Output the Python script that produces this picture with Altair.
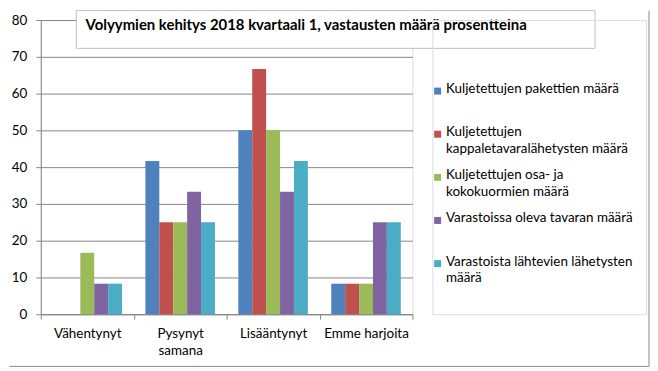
import altair as alt
import pandas as pd

title_text = "Volyymien kehitys 2018 kvartaali 1, vastausten määrä prosentteina"

categories = ["Vähentynyt", "Pysynyt samana", "Lisääntynyt", "Emme harjoita"]
series = [
    "Kuljetettujen pakettien määrä",
    "Kuljetettujen kappaletavaralähetysten määrä",
    "Kuljetettujen osa- ja kokokuormien määrä",
    "Varastoissa oleva tavaran määrä",
    "Varastoista lähtevien lähetysten määrä",
]
legend_labels = [
    "Kuljetettujen pakettien määrä",
    "Kuljetettujen\nkappaletavaralähetysten määrä",
    "Kuljetettujen osa- ja\nkokokuormien määrä",
    "Varastoissa oleva tavaran määrä",
    "Varastoista lähtevien lähetysten\nmäärä",
]
legend_slot = [0, 1, 2, 3, 4]
colors = ["#4F81BD", "#C0504D", "#9BBB59", "#8064A2", "#4BACC6"]

# values per series, in category order
pakettien = [0.0, 41.7, 50.0, 8.3]
kappaletavara = [0.0, 25.0, 66.7, 8.3]
kokokuormat = [16.7, 25.0, 50.0, 8.3]
varastoissa = [8.3, 33.3, 33.3, 25.0]
lahtevat = [8.3, 25.0, 41.7, 25.0]
y_ticks = [0, 10, 20, 30, 40, 50, 60, 70, 80]

rows = []
for s, vals in zip(series, [pakettien, kappaletavara, kokokuormat, varastoissa, lahtevat]):
    for c, v in zip(categories, vals):
        rows.append({"category": c, "series": s, "value": v})
df = pd.DataFrame(rows)
legend_df = pd.DataFrame({"series": series, "label": legend_labels, "slot": legend_slot})

FONT = "Lato"
GRID = "#868686"
W, H = 374, 296

color_scale = alt.Scale(domain=series, range=colors)

bars = alt.Chart(df).mark_bar().encode(
    x=alt.X(
        "category:N",
        sort=categories,
        scale=alt.Scale(paddingInner=0, paddingOuter=0),
        axis=alt.Axis(
            title=None,
            labelAngle=0,
            tickBand="extent",
            grid=False,
            domainColor=GRID,
            tickColor=GRID,
            tickSize=5,
            labelPadding=7,
            labelFont=FONT,
            labelFontSize=13.5,
            labelColor="#000000",
            labelLineHeight=18,
            labelExpr="datum.label == 'Pysynyt samana' ? ['Pysynyt', 'samana'] : datum.label",
        ),
    ),
    xOffset=alt.XOffset(
        "series:N", sort=series, scale=alt.Scale(paddingInner=0, paddingOuter=0.84)
    ),
    y=alt.Y(
        "value:Q",
        scale=alt.Scale(domain=[0, 80], nice=False),
        axis=alt.Axis(
            title=None,
            values=y_ticks,
            grid=True,
            gridColor=GRID,
            domainColor=GRID,
            tickColor=GRID,
            tickSize=5,
            labelPadding=9,
            labelFont=FONT,
            labelFontSize=13.5,
            labelColor="#000000",
        ),
    ),
    color=alt.Color("series:N", scale=color_scale, legend=None),
)

one = pd.DataFrame({"t": [title_text]})

title_box = alt.Chart(one).mark_rect(fill="white", stroke="#BFBFBF", strokeWidth=1).encode(
    x=alt.value(35.7), x2=alt.value(557.7), y=alt.value(-9.5), y2=alt.value(28.5)
)
title = alt.Chart(one).mark_text(
    align="left", baseline="middle", font=FONT, fontSize=15, fontWeight="bold", color="#000000"
).encode(x=alt.value(45), y=alt.value(5), text="t:N")

border_right = alt.Chart(one).mark_rule(color="#888888").encode(
    x=alt.value(612), y=alt.value(-9.5), y2=alt.value(348.5)
)
border_bottom = alt.Chart(one).mark_rule(color="#888888").encode(
    x=alt.value(-31.5), x2=alt.value(612), y=alt.value(348.5)
)

main = alt.layer(bars, title_box, title, border_right, border_bottom).properties(width=W, height=H)

ly = alt.Y(
    "slot:Q",
    scale=alt.Scale(domain=[-1.647, 5.173], reverse=True, nice=False, zero=False),
    axis=None,
)
leg_sym = alt.Chart(legend_df).mark_square(size=49, opacity=1).encode(
    x=alt.value(5.3), y=ly, color=alt.Color("series:N", scale=color_scale, legend=None)
)
leg_txt = alt.Chart(legend_df).mark_text(
    align="left", baseline="top", dy=-9, lineBreak="\n", font=FONT, fontSize=13.5,
    lineHeight=17, color="#000000"
).encode(x=alt.value(13.7), y=ly, text="label:N")
legend = alt.layer(leg_sym, leg_txt).properties(width=215, height=H)

chart = alt.hconcat(main, legend, spacing=20, bounds="flush").properties(
    padding={"left": 0, "top": 0, "right": 0, "bottom": 0}
).configure_view(stroke=None).configure(background="white")

chart.save("out.html", embed_options={"renderer": "svg", "actions": False})
